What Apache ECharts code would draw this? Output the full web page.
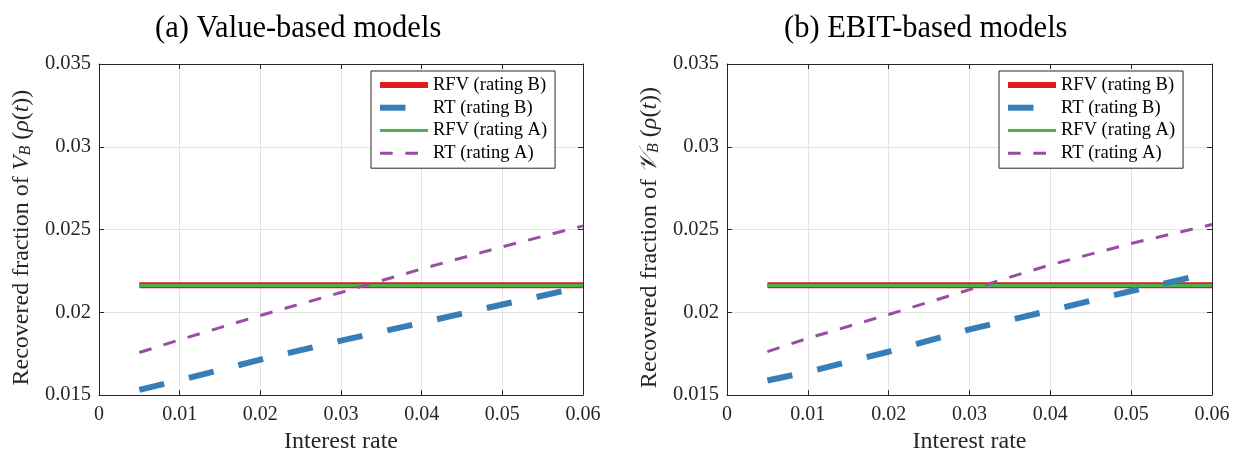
<!DOCTYPE html>
<html>
<head>
<meta charset="utf-8">
<script src="https://cdn.jsdelivr.net/npm/echarts@6/dist/echarts.min.js"></script>
<style>html,body{margin:0;padding:0;background:#fff}#c{width:1244px;height:459px}</style>
</head>
<body>
<div id="c"></div>
<script>
// ---- data ----
const rates = [0.005, 0.01, 0.02, 0.03, 0.04, 0.05, 0.06];
const seriesNames = ['RFV (rating B)', 'RT (rating B)', 'RFV (rating A)', 'RT (rating A)'];
const xTicks = [0, 0.01, 0.02, 0.03, 0.04, 0.05, 0.06];
const yTicks = [0.015, 0.02, 0.025, 0.03, 0.035];
// (a) Value-based models
const valueRFV_B = [0.02163, 0.02163, 0.02163, 0.02163, 0.02163, 0.02163, 0.02163];
const valueRT_B  = [0.01532, 0.0159, 0.01714, 0.01829, 0.01937, 0.02047, 0.02155];
const valueRFV_A = [0.02162, 0.02162, 0.02162, 0.02162, 0.02162, 0.02162, 0.02162];
const valueRT_A  = [0.01757, 0.01834, 0.01981, 0.0212, 0.02262, 0.02396, 0.02522];
// (b) EBIT-based models
const ebitRFV_B = [0.02163, 0.02163, 0.02163, 0.02163, 0.02163, 0.02163, 0.02163];
const ebitRT_B  = [0.01588, 0.0164, 0.01762, 0.01897, 0.02011, 0.02129, 0.0224];
const ebitRFV_A = [0.02162, 0.02162, 0.02162, 0.02162, 0.02162, 0.02162, 0.02162];
const ebitRT_A  = [0.01763, 0.01843, 0.01987, 0.02137, 0.02287, 0.02416, 0.0253];

const colors = {red:'#e41a1c', blue:'#377eb8', green:'#4daf4a', purple:'#984ea3'};
const FONT = '"Liberation Serif", "Times New Roman", serif';
const AX = '#262626';
const styles = {
  'RFV (rating B)': {color:colors.red, width:6, type:'solid'},
  'RT (rating B)':  {color:colors.blue, width:6, type:[25.5,25.5]},
  'RFV (rating A)': {color:colors.green, width:3, type:'solid'},
  'RT (rating A)':  {color:colors.purple, width:3, type:[12.7,12.6]}
};

function pairs(vals){ return rates.map((r,i)=>[r, vals[i]]); }

function axesFor(gridIndex, yName){
  const xb = {
    gridIndex, type:'value', min:xTicks[0], max:xTicks[xTicks.length-1], interval:0.01,
    position:'bottom',
    axisLine:{show:true, onZero:false, lineStyle:{color:AX, width:1}},
    axisTick:{show:true, inside:true, length:5, lineStyle:{color:AX}},
    axisLabel:{show:true, margin:10, color:'#262626', fontFamily:FONT, fontSize:20,
      formatter:v=>String(+v.toFixed(3))},
    splitLine:{show:true, lineStyle:{color:'#e3e3e3', width:1}},
    name:'Interest rate', nameLocation:'middle', nameGap:32,
    nameTextStyle:{color:'#262626', fontFamily:FONT, fontSize:24}
  };
  const xt = {
    gridIndex, type:'value', min:xTicks[0], max:xTicks[xTicks.length-1], interval:0.01,
    position:'top',
    axisLine:{show:true, onZero:false, lineStyle:{color:AX, width:1}},
    axisTick:{show:true, inside:true, length:5, lineStyle:{color:AX}},
    axisLabel:{show:false}, splitLine:{show:false}
  };
  const yl = {
    gridIndex, type:'value', min:yTicks[0], max:yTicks[yTicks.length-1], interval:0.005,
    position:'left',
    axisLine:{show:true, onZero:false, lineStyle:{color:AX, width:1}},
    axisTick:{show:true, inside:true, length:5, lineStyle:{color:AX}},
    axisLabel:{show:true, margin:8, color:'#262626', fontFamily:FONT, fontSize:20.5,
      formatter:v=>String(+v.toFixed(4))},
    splitLine:{show:true, lineStyle:{color:'#e3e3e3', width:1}},
    name:yName, nameLocation:'middle', nameGap:65,
    nameTextStyle:{color:'#262626', fontFamily:FONT, fontSize:24, padding:[0,16,0,0],
      rich:{
        i:{fontFamily:FONT, fontStyle:'italic', fontSize:24, color:'#262626'},
        s:{fontFamily:FONT, fontStyle:'italic', fontSize:16, color:'#262626', verticalAlign:'bottom', padding:[9,0,0,0]}
      }}
  };
  const yr = {
    gridIndex, type:'value', min:yTicks[0], max:yTicks[yTicks.length-1], interval:0.005,
    position:'right',
    axisLine:{show:true, onZero:false, lineStyle:{color:AX, width:1}},
    axisTick:{show:true, inside:true, length:5, lineStyle:{color:AX}},
    axisLabel:{show:false}, splitLine:{show:false}
  };
  return {x:[xb, xt], y:[yl, yr]};
}

const a0 = axesFor(0, 'Recovered fraction of {i|V}{s|B} ({i|ρ}({i|t}))');
const a1 = axesFor(1, 'Recovered fraction of {i|𝒱}{s|B} ({i|ρ}({i|t}))');

function seriesFor(xi, yi, data){
  const order = ['RFV (rating B)', 'RFV (rating A)', 'RT (rating B)', 'RT (rating A)'];
  return order.map((name, k) => {
    const s = styles[name];
    return {
      type:'line', name, xAxisIndex:xi, yAxisIndex:yi, symbol:'none', silent:true, animation:false,
      data:pairs(data[name]), z:2+k,
      lineStyle:{color:s.color, width:s.width, type:s.type, cap:'butt'},
      itemStyle:{color:s.color}
    };
  });
}

function legendAt(left){
  return {
    left, top:71, orient:'vertical',
    data:seriesNames.map(n => ({name:n, lineStyle:{width:styles[n].width, color:styles[n].color, type:styles[n].type, cap:'butt'}})),
    itemWidth:48, itemHeight:14, itemGap:0, align:'left',
    padding:[2.5,8,3.5,6],
    backgroundColor:'#fff', borderColor:'#262626', borderWidth:1, borderRadius:0,
    selectedMode:false,
    textStyle:{fontFamily:FONT, fontSize:18.5, color:'#000', lineHeight:22.8},
    itemStyle:{opacity:0, borderWidth:0}
  };
}

const option = {
  backgroundColor:'#fff',
  animation:false,
  title:[
    {text:'(a) Value-based models', left:150, top:8, textStyle:{fontFamily:FONT, fontSize:30.5, fontWeight:'normal', color:'#000'}},
    {text:'(b) EBIT-based models', left:779, top:8, textStyle:{fontFamily:FONT, fontSize:30.5, fontWeight:'normal', color:'#000'}}
  ],
  grid:[
    {left:99, right:661, top:64, bottom:61},
    {left:727, right:32, top:64, bottom:61}
  ],
  xAxis:[...a0.x, ...a1.x],
  yAxis:[...a0.y, ...a1.y],
  legend:[legendAt(371), legendAt(999)],
  series:[
    ...seriesFor(0, 0, {'RFV (rating B)':valueRFV_B, 'RT (rating B)':valueRT_B, 'RFV (rating A)':valueRFV_A, 'RT (rating A)':valueRT_A}),
    ...seriesFor(2, 2, {'RFV (rating B)':ebitRFV_B, 'RT (rating B)':ebitRT_B, 'RFV (rating A)':ebitRFV_A, 'RT (rating A)':ebitRT_A})
  ]
};
const chart = echarts.init(document.getElementById('c'), null, {renderer:'canvas'});
chart.setOption(option);
</script>
</body>
</html>
